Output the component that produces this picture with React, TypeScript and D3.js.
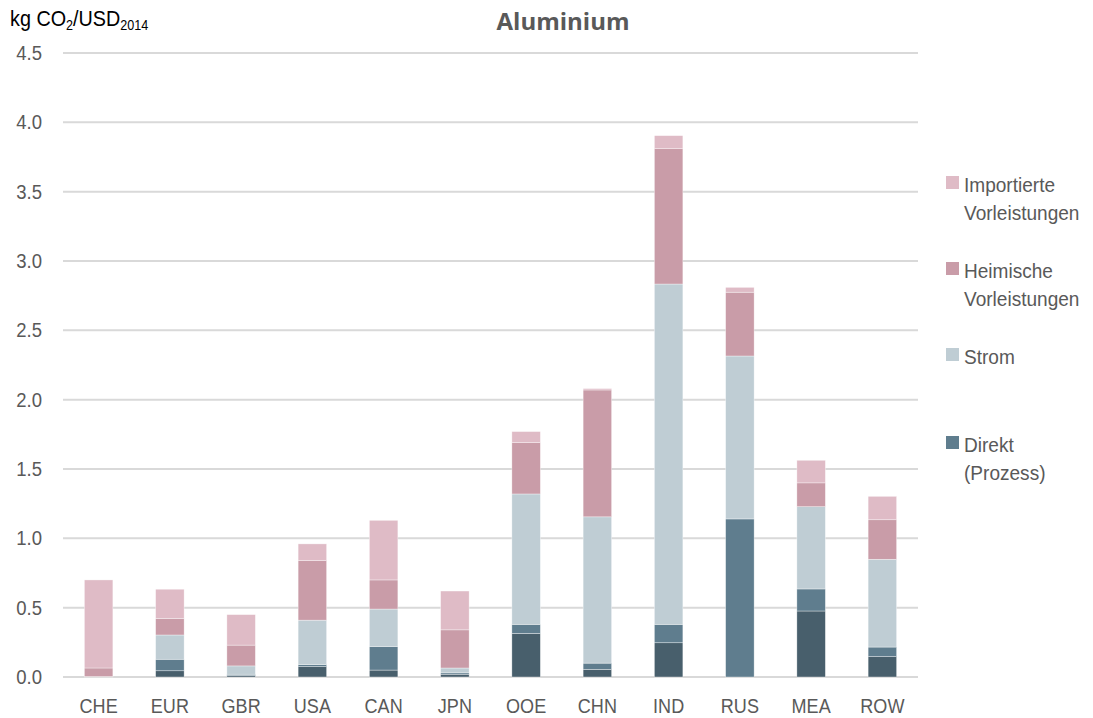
import React from "react";
import * as d3 from "d3";

const categories = ["CHE", "EUR", "GBR", "USA", "CAN", "JPN", "OOE", "CHN", "IND", "RUS", "MEA", "ROW"];
const direktEnergie = [0, 0.045, 0.01, 0.075, 0.05, 0.02, 0.315, 0.055, 0.247, 0, 0.476, 0.147];
const direktProzess = [0, 0.083, 0.01, 0.015, 0.17, 0.01, 0.065, 0.045, 0.133, 1.14, 0.159, 0.069];
const strom = [0.003, 0.175, 0.06, 0.32, 0.27, 0.035, 0.94, 1.055, 2.454, 1.175, 0.593, 0.633];
const heimische = [0.062, 0.12, 0.15, 0.43, 0.21, 0.275, 0.37, 0.915, 0.976, 0.46, 0.172, 0.285];
const importierte = [0.635, 0.21, 0.22, 0.12, 0.43, 0.28, 0.08, 0.01, 0.094, 0.035, 0.163, 0.169];
const yTicks = [0, 0.5, 1.0, 1.5, 2.0, 2.5, 3.0, 3.5, 4.0, 4.5];

const seriesKeys = ["direktEnergie", "direktProzess", "strom", "heimische", "importierte"];
const colors: Record<string, string> = {
  direktEnergie: "#485f6c",
  direktProzess: "#5f7d8e",
  strom: "#bfcdd4",
  heimische: "#c99ca8",
  importierte: "#dfbbc6",
};
const legendItems = [
  { key: "importierte", lines: ["Importierte", "Vorleistungen"], y: 184 },
  { key: "heimische", lines: ["Heimische", "Vorleistungen"], y: 270 },
  { key: "strom", lines: ["Strom"], y: 356 },
  { key: "direktProzess", lines: ["Direkt", "(Prozess)"], y: 444 },
];

const FONT = "'Liberation Sans', Arial, sans-serif";
const TITLE_FONT = "'Open Sans', 'Liberation Sans', sans-serif";
const TEXT = "#595959";

function T(props: any) {
  const { x, y, sx = 1, children, ...rest } = props;
  return (
    <text transform={`translate(${x},${y}) scale(${sx},1)`} {...rest}>
      {children}
    </text>
  );
}

export default function App() {
  const width = 1093;
  const height = 718;
  const rows = categories.map((c, i) => ({
    cat: c,
    direktEnergie: direktEnergie[i],
    direktProzess: direktProzess[i],
    strom: strom[i],
    heimische: heimische[i],
    importierte: importierte[i],
  }));
  const stack = d3.stack<any>().keys(seriesKeys)(rows);
  const x = d3.scaleBand().domain(categories).range([63, 918]).paddingInner(0.6).paddingOuter(0.3);
  const y = d3.scaleLinear().domain([0, 4.5]).range([677, 53]);

  return (
    <svg width={width} height={height} style={{ position: "absolute", left: 0, top: 0, fontFamily: FONT }}>
      <rect width={width} height={height} fill="#fff" />
      {yTicks.map((t) => (
        <g key={t}>
          <line x1={63} x2={918} y1={y(t)} y2={y(t)} stroke="#d9d9d9" strokeWidth={2} />
          <T x={42} y={y(t) + 7} sx={0.95} textAnchor="end" fontSize={19.5} fill={TEXT}>
            {t.toFixed(1)}
          </T>
        </g>
      ))}
      {stack.map((s) => (
        <g key={s.key}>
          {s.map((d, i) => {
            const h = y(d[0]) - y(d[1]);
            if (h <= 0) return null;
            return (
              <rect
                key={i}
                x={x(categories[i])}
                width={x.bandwidth()}
                y={y(d[1])}
                height={h}
                fill={colors[s.key]}
                stroke="#ffffff"
                strokeOpacity={0.6}
                strokeWidth={0.6}
              />
            );
          })}
        </g>
      ))}
      {categories.map((c) => (
        <T key={c} x={(x(c) as number) + x.bandwidth() / 2} y={713} sx={0.86} textAnchor="middle" fontSize={21} fill={TEXT}>
          {c}
        </T>
      ))}
      <T x={10} y={26} sx={0.9} fontSize={22} fill="#000">
        kg CO<tspan fontSize={14} dy={4}>2</tspan>
        <tspan dy={-4}>/USD</tspan>
        <tspan fontSize={14} dy={4}>2014</tspan>
      </T>
      <text x={563} y={30} textAnchor="middle" fontSize={24} fontWeight="bold" fill={TEXT} fontFamily={TITLE_FONT}>
        Aluminium
      </text>
      {legendItems.map((it) => (
        <g key={it.key}>
          <rect x={946} y={it.y - 8} width={13} height={13} fill={colors[it.key]} />
          {it.lines.map((l, j) => (
            <T key={j} x={964} y={it.y + 8 + j * 28} sx={0.93} fontSize={20.5} fill={TEXT}>
              {l}
            </T>
          ))}
        </g>
      ))}
    </svg>
  );
}
